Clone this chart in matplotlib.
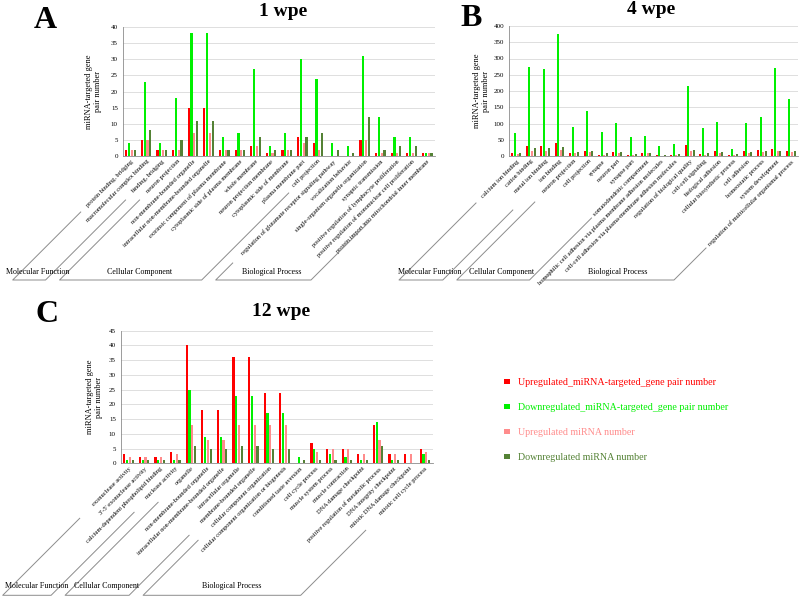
import matplotlib
matplotlib.use("Agg")
import matplotlib.pyplot as plt
from matplotlib.lines import Line2D
import numpy as np

plt.rcParams['font.family'] = ['Liberation Serif', 'DejaVu Serif']

# ---------------- data ----------------
series_names = ["Upregulated_miRNA-targeted_gene pair number",
                "Downregulated_miRNA-targeted_gene pair number",
                "Upregulated miRNA number",
                "Downregulated miRNA number"]
series_colors = ["#FF0000", "#00F000", "#FF8C8C", "#548235"]

A_cats = ["protein binding, bridging", "macromolecular complex binding", "binding, bridging",
          "neuron projection", "non-membrane-bounded organelle",
          "intracellular non-membrane-bounded organelle", "extrinsic component of plasma membrane",
          "cytoplasmic side of plasma membrane", "whole membrane", "neuron projection membrane",
          "cytoplasmic side of membrane", "plasma membrane part", "cell projection",
          "regulation of glutamate receptor signaling pathway", "vocalization behavior",
          "single-organism organelle organization", "synaptic transmission",
          "positive regulation of lymphocyte proliferation",
          "positive regulation of mononuclear cell proliferation",
          "protein import into mitochondrial inner membrane"]
A_up_pairs = [2, 5, 2, 2, 15, 15, 2, 2, 3, 1, 2, 6, 4, 0, 0, 5, 1, 1, 1, 1]
A_down_pairs = [4, 23, 4, 18, 38, 38, 6, 7, 27, 3, 7, 30, 24, 4, 3, 31, 12, 6, 6, 1]
A_up_mirna = [2, 5, 2, 2, 7, 7, 2, 2, 3, 1, 2, 4, 2, 0, 0, 5, 1, 1, 1, 1]
A_down_mirna = [2, 8, 2, 5, 11, 11, 2, 2, 6, 2, 2, 6, 7, 2, 1, 12, 2, 3, 3, 1]
A_groups = [("Molecular Function", 0, 3), ("Cellular Component", 3, 13),
            ("Biological Process", 13, 20)]

B_cats = ["calcium ion binding", "cation binding", "metal ion binding", "ion binding",
          "neuron projection", "cell projection", "synapse", "neuron part", "synapse part",
          "somatodendritic compartment",
          "homophilic cell adhesion via plasma membrane adhesion molecules",
          "cell-cell adhesion via plasma-membrane adhesion molecules",
          "regulation of biological quality", "cell-cell signaling", "biological adhesion",
          "cellular biosynthetic process", "cell adhesion", "homeostatic process",
          "system development", "regulation of multicellular organismal process"]
B_up_pairs = [8, 31, 31, 41, 10, 16, 3, 13, 2, 9, 2, 4, 33, 6, 14, 3, 14, 19, 22, 16]
B_down_pairs = [70, 275, 268, 374, 90, 140, 73, 102, 59, 61, 32, 38, 215, 86, 104, 22, 103, 119, 270, 174]
B_up_mirna = [6, 15, 14, 18, 10, 12, 2, 10, 2, 9, 1, 4, 15, 4, 8, 2, 8, 11, 14, 13]
B_down_mirna = [10, 25, 25, 28, 13, 16, 8, 13, 6, 10, 4, 6, 17, 10, 11, 5, 11, 15, 16, 15]
B_groups = [("Molecular Function", 0, 4), ("Cellular Component", 4, 10),
            ("Biological Process", 10, 20)]

C_cats = ["exonuclease activity", "3'-5' exonuclease activity",
          "calcium-dependent phospholipid binding", "nuclease activity", "organelle",
          "non-membrane-bounded organelle", "intracellular non-membrane-bounded organelle",
          "intracellular organelle", "membrane-bounded organelle",
          "cellular component organization", "cellular component organization or biogenesis",
          "conditioned taste aversion", "cell cycle process", "muscle system process",
          "muscle contraction", "DNA damage checkpoint",
          "positive regulation of metabolic process", "DNA integrity checkpoint",
          "mitotic DNA damage checkpoint", "mitotic cell cycle process"]
C_up_pairs = [3, 2, 2, 4, 40, 18, 18, 36, 36, 24, 24, 0, 7, 5, 5, 3, 13, 3, 3, 5]
C_down_pairs = [1, 1, 1, 1, 25, 9, 9, 23, 23, 17, 17, 2, 5, 3, 2, 1, 14, 1, 0, 3]
C_up_mirna = [2, 2, 2, 3, 13, 8, 8, 13, 13, 13, 13, 0, 4, 5, 5, 3, 8, 3, 3, 4]
C_down_mirna = [1, 1, 1, 1, 6, 5, 5, 6, 6, 5, 5, 1, 1, 1, 1, 1, 6, 1, 0, 1]
C_groups = [("Molecular Function", 0, 4), ("Cellular Component", 4, 9),
            ("Biological Process", 9, 20)]

# ---------------- layout ----------------
W, H = 800, 596
fig = plt.figure(figsize=(8, 5.96), dpi=100)
fig.patch.set_facecolor("white")


def px_axes(l, t, r, b):
    return fig.add_axes([l / W, 1 - b / H, (r - l) / W, (b - t) / H])


def to_fig(xd, yd):
    return fig.transFigure.inverted().transform((xd, yd))


def draw_panel(ax, cats, series, ymax, ystep, groups, drop, line_lens, lab_off, ylab_x):
    n = len(cats)
    x = np.arange(n)
    bw = 0.14
    step = 0.18
    bars = []
    for i, (vals, col) in enumerate(zip(series, series_colors)):
        b = ax.bar(x + (i - 1.5) * step, vals, width=bw, color=col, zorder=3)
        bars.append(b)
    ax.set_xlim(-0.5, n - 0.5)
    ax.set_ylim(0, ymax)
    ax.set_yticks(np.arange(0, ymax + 0.1, ystep))
    ax.yaxis.grid(True, color="#D9D9D9", linewidth=0.6, zorder=0)
    ax.set_axisbelow(True)
    for s in ("top", "right"):
        ax.spines[s].set_visible(False)
    ax.spines["left"].set_color("#8C8C8C")
    ax.spines["bottom"].set_color("#8C8C8C")
    ax.spines["left"].set_linewidth(0.6)
    ax.spines["bottom"].set_linewidth(0.6)
    ax.tick_params(axis="y", length=0, labelsize=5, pad=3.5)
    ax.tick_params(axis="x", length=0, pad=2)
    ax.set_xticks(x)
    ax.set_xticklabels(cats, rotation=45, ha="right", va="top",
                       rotation_mode="anchor", fontsize=4.6)
    ax.set_ylabel("miRNA-targeted gene\npair number", fontsize=6, linespacing=1.1)
    ax.yaxis.set_label_coords(ylab_x, 0.5)

    # group brackets (slanted, 45 deg)
    y_axis = ax.transData.transform((0, 0))[1]
    y_bot = y_axis - drop
    for (name, s, e), (ll, rl) in zip(groups, line_lens):
        xs = ax.transData.transform((s - 0.5, 0))[0] + 14
        xe = ax.transData.transform((e - 0.5, 0))[0]
        bl = xs - drop
        br = xe - drop
        pts = [(bl + ll, y_bot + ll), (bl, y_bot), (br, y_bot), (br + rl, y_bot + rl)]
        fpts = np.array([to_fig(px, py) for px, py in pts])
        fig.add_artist(Line2D(fpts[:, 0], fpts[:, 1], transform=fig.transFigure,
                              color="#8C8C8C", linewidth=0.7))
        cx = (bl + br) / 2 + lab_off
        tx, ty = to_fig(cx, y_bot + lab_off)
        fig.text(tx, ty, name, ha="center", va="center", fontsize=5.8)
    return bars


axA = px_axes(122.7, 27, 435, 156)
draw_panel(axA, A_cats, [A_up_pairs, A_down_pairs, A_up_mirna, A_down_mirna], 40, 5,
           A_groups, 124, [(68, 80), (80, 87), (17, 60)], 8.5, -0.066)

axB = px_axes(509, 26, 798, 156)
draw_panel(axB, B_cats, [B_up_pairs, B_down_pairs, B_up_mirna, B_down_mirna], 400, 50,
           B_groups, 124, [(77, 70), (78, 62), (8, 32)], 8.5, -0.066)

axC = px_axes(120.7, 330.7, 432.7, 463.3)
barsC = draw_panel(axC, C_cats, [C_up_pairs, C_down_pairs, C_up_mirna, C_down_mirna], 45, 5,
                   C_groups, 132, [(77, 83), (93, 60), (55, 65)], 9.5, -0.057)

# titles and panel letters
fig.text(283 / W, 1 - 12 / H, "1 wpe", ha="center", va="center", fontsize=14, weight="bold")
fig.text(651 / W, 1 - 9 / H, "4 wpe", ha="center", va="center", fontsize=14, weight="bold")
fig.text(281 / W, 1 - 312 / H, "12 wpe", ha="center", va="center", fontsize=14, weight="bold")
fig.text(45 / W, 1 - 20 / H, "A", ha="center", va="center", fontsize=23, weight="bold")
fig.text(471 / W, 1 - 18 / H, "B", ha="center", va="center", fontsize=23, weight="bold")
fig.text(47 / W, 1 - 314 / H, "C", ha="center", va="center", fontsize=23, weight="bold")

# legend
fig.legend([b[0] for b in barsC], series_names, loc="upper left",
           bbox_to_anchor=(504 / W, 1 - 378 / H), frameon=False, fontsize=7.2,
           labelcolor=series_colors, handlelength=0.6, handleheight=0.35,
           handletextpad=0.75, labelspacing=1.6, borderpad=0, borderaxespad=0)

fig.savefig("out.png", dpi=100)
